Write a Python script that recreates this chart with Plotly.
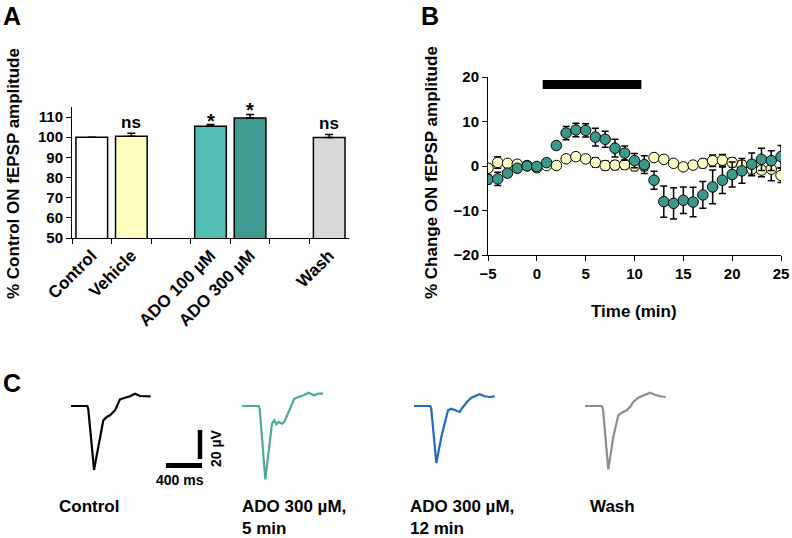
import plotly.graph_objects as go

W, H = 792, 538
FONT = "Arial, 'Liberation Sans', sans-serif"

# ---------------- Panel A data ----------------
a_categories = ["Control", "Vehicle", " ", "ADO 100 µM", "ADO 300 µM", "  ", "Wash"]
a_bar_labels = ["Control", "Vehicle", "ADO 100 µM", "ADO 300 µM", "Wash"]
a_values = [100.0, 100.5, 105.4, 109.6, 99.9]
a_errors = [0.0, 1.5, 0.9, 1.7, 1.5]
a_signif = ["", "ns", "*", "*", "ns"]
a_colors = ["#FFFFFF", "#FFFFC0", "#53BDB1", "#3E998E", "#D9D9D9"]
a_yticks = [50, 60, 70, 80, 90, 100, 110]

# ---------------- Panel B data ----------------
b_time = list(range(-5, 26))
b_ado = [-3.0, -2.9, -1.6, -0.5, 0.0, -0.1, 0.75, 4.6, 7.4, 8.1, 8.0, 6.5, 6.0, 4.0, 2.9, 1.2,
         0.3, -3.2, -8.0, -8.4, -7.7, -8.1, -6.5, -4.7, -3.2, -1.9, -1.1, 0.4, 1.5, 1.2, 2.1]
b_ado_err = [1.0, 1.5, 0.8, 0.5, 0.5, 0.5, 0.5, 0.8, 1.5, 1.5, 1.5, 2.0, 1.8, 2.0, 1.6, 1.6,
             2.0, 2.0, 3.5, 3.5, 3.0, 3.3, 3.0, 3.8, 3.0, 2.8, 2.8, 2.5, 2.5, 2.2, 2.5]
b_veh = [-0.5, 0.8, 0.6, 0.4, 0.1, -0.4, 0.1, 0.1, 1.6, 2.1, 1.6, 0.8, 0.1, 0.2, 0.3, 0.0,
         0.0, 1.9, 1.5, 0.6, -0.2, 0.2, 0.6, 1.2, 1.3, 0.8, 0.2, -0.7, -0.9, -0.7, -2.1]
b_veh_err = [0.5, 1.3, 0.6, 0.5, 0.4, 0.6, 0.4, 0.4, 0.5, 0.8, 0.6, 1.0, 1.0, 1.0, 1.0, 1.0,
             1.0, 0.5, 0.5, 0.6, 0.6, 0.6, 1.0, 1.3, 1.3, 1.0, 1.0, 1.5, 1.5, 2.6, 1.6]
b_drug_period = [0.6, 10.7]
b_drug_level = [18.3, 18.3]
b_xticks = [-5, 0, 5, 10, 15, 20, 25]
b_yticks = [-20, -10, 0, 10, 20]

# ---------------- Panel C data (ms, µV) ----------------
c_ctrl_t = [0, 181, 192, 219, 256, 286, 322, 359, 397, 433, 489, 544, 600, 656, 711, 767, 885]
c_ctrl_v = [0, 0, -2.1, -18, -44, -34, -21.4, -9.9, -7.6, -6.4, -3, 4.6, 5.7, 6.7, 8.5, 6.9, 6.7]
c_ado5_t = [0, 186, 197, 222, 259, 297, 333, 359, 381, 408, 444, 470, 500, 537, 581, 630, 685, 741, 797, 852, 900]
c_ado5_v = [0, 0, -2.1, -24, -50.6, -31, -12.2, -9.9, -12.6, -11, -12.2, -11, -6.4, -0.7, 5, 6.2, 7.4, 9.2, 7.4, 8.5, 8.5]
c_ado12_t = [0, 181, 192, 222, 248, 303, 378, 414, 463, 508, 544, 589, 637, 692, 730, 785, 841, 897]
c_ado12_v = [0, 0, -2.1, -20.7, -39.3, -21.6, -3, -1.9, -3, -4.1, -0.7, 2.8, 5.7, 7.4, 8.1, 6.7, 6.2, 6.7]
c_wash_t = [0, 186, 200, 233, 259, 314, 370, 408, 463, 500, 537, 592, 648, 722, 778, 833, 897]
c_wash_v = [0, 0, -2.1, -24, -43.7, -21.4, -6.4, -4.6, -3, -0.7, 2.8, 5.7, 7.4, 9.2, 7.8, 6.7, 6.2]
c_labels = ["Control", "ADO 300 µM,<br>5 min", "ADO 300 µM,<br>12 min", "Wash"]
c_colors = ["#000000", "#4DA89B", "#1C6DBA", "#8C8C8C"]
c_scale_ms = 400
c_scale_uv = 20

# ---------------- helpers ----------------
def px(x):
    return x / W

def py(y):
    return 1 - y / H

MS_PER_PX = 400 / 36.0
UV_PER_PX = 20 / 29.0
BASE_PX = 406

fig = go.Figure()

# Panel A bars
fig.add_trace(go.Bar(
    x=a_bar_labels, y=a_values, marker=dict(color=a_colors, line=dict(color="black", width=1.5)),
    error_y=dict(type="data", array=a_errors, arrayminus=[0] * len(a_errors), symmetric=False,
                 color="black", thickness=1.5, width=4),
    xaxis="x", yaxis="y", width=0.8, showlegend=False))

# Panel B
fig.add_trace(go.Scatter(x=b_drug_period, y=b_drug_level, mode="lines",
                         line=dict(color="black", width=9), xaxis="x2", yaxis="y2", showlegend=False))
fig.add_trace(go.Scatter(x=b_time, y=b_veh, mode="markers",
                         marker=dict(size=10.5, color="#FFFFC8", line=dict(color="black", width=1)),
                         error_y=dict(type="data", array=b_veh_err, color="black", thickness=1.5, width=3.5),
                         xaxis="x2", yaxis="y2", showlegend=False))
fig.add_trace(go.Scatter(x=b_time, y=b_ado, mode="markers",
                         marker=dict(size=10.5, color="#3A998A", line=dict(color="black", width=1)),
                         error_y=dict(type="data", array=b_ado_err, color="black", thickness=1.5, width=3.5),
                         xaxis="x2", yaxis="y2", showlegend=False))

# Panel C traces
c_offsets_px = [71, 242, 414, 585]
traces_c = [(c_ctrl_t, c_ctrl_v), (c_ado5_t, c_ado5_v), (c_ado12_t, c_ado12_v), (c_wash_t, c_wash_v)]
for (tt, vv), off, col in zip(traces_c, c_offsets_px, c_colors):
    off_ms = off * MS_PER_PX
    fig.add_trace(go.Scatter(x=[off_ms + t for t in tt], y=vv, mode="lines",
                             line=dict(color=col, width=2.2), xaxis="x3", yaxis="y3", showlegend=False))

# scale bars
hb_x0 = 166 * MS_PER_PX
hb_y = (BASE_PX - 465.5) * UV_PER_PX
fig.add_trace(go.Scatter(x=[hb_x0, hb_x0 + c_scale_ms], y=[hb_y, hb_y], mode="lines",
                         line=dict(color="black", width=5), xaxis="x3", yaxis="y3", showlegend=False))
vb_x = 200 * MS_PER_PX
vb_y0 = (BASE_PX - 459) * UV_PER_PX
fig.add_trace(go.Scatter(x=[vb_x, vb_x], y=[vb_y0, vb_y0 + c_scale_uv], mode="lines",
                         line=dict(color="black", width=4.5), xaxis="x3", yaxis="y3", showlegend=False))

tickfont = dict(family=FONT, size=15, color="black", weight="bold")
common = dict(automargin=False, showgrid=False, zeroline=False)

fig.update_layout(
    width=W, height=H, autosize=False,
    margin=dict(l=0, r=0, t=0, b=0, pad=0, autoexpand=False),
    paper_bgcolor="white", plot_bgcolor="white",
    showlegend=False,
    xaxis=dict(domain=[px(72), px(349)], type="category", categoryorder="array",
               categoryarray=a_categories, range=[-0.5, 6.5], tickson="boundaries",
               ticks="outside", ticklen=5, tickcolor="black", showline=True, linecolor="black",
               linewidth=1, tickangle=-45,
               tickfont=dict(family=FONT, size=17, color="black", weight="bold"), anchor="y", **common),
    yaxis=dict(domain=[py(238), py(107)], range=[50, 115], tickvals=a_yticks,
               ticks="outside", ticklen=5, tickcolor="black", showline=True, linecolor="black",
               linewidth=1, tickfont=tickfont, anchor="x", **common),
    xaxis2=dict(domain=[px(488), px(781)], range=[-5, 25], tickvals=b_xticks,
                ticks="outside", ticklen=5, tickcolor="black", showline=True, linecolor="black",
                linewidth=1, tickfont=tickfont, anchor="y2", **common),
    yaxis2=dict(domain=[py(255), py(77)], range=[-20, 20], tickvals=b_yticks,
                ticks="outside", ticklen=5, tickcolor="black", showline=True, linecolor="black",
                linewidth=1, tickfont=tickfont, anchor="x2", **common),
    xaxis3=dict(domain=[0, 1], range=[0, W * MS_PER_PX], visible=False, anchor="y3", **common),
    yaxis3=dict(domain=[0, py(370)], range=[(BASE_PX - H) * UV_PER_PX, (BASE_PX - 370) * UV_PER_PX],
                visible=False, anchor="x3", **common),
)

ann = []
def txt(x, y, s, size=17, xanchor="center", yanchor="middle", angle=0, align="left"):
    ann.append(dict(x=px(x), y=py(y), xref="paper", yref="paper", text=s, showarrow=False,
                    xanchor=xanchor, yanchor=yanchor, textangle=angle, align=align,
                    font=dict(family=FONT, size=size, color="black", weight="bold")))

# panel letters
txt(1, 16, "A", size=25, xanchor="left")
txt(419, 16, "B", size=25, xanchor="left")
txt(1, 383, "C", size=25, xanchor="left")

# axis titles
txt(13, 174, "% Control ON fEPSP amplitude", angle=-90)
txt(431, 173, "% Change ON fEPSP amplitude", angle=-90)
txt(634, 311, "Time (min)")

# significance marks
for lab, v, e, s in zip(a_bar_labels, a_values, a_errors, a_signif):
    if s:
        ann.append(dict(x=lab, y=v + e, xref="x", yref="y", text=s, showarrow=False,
                        xanchor="center", yanchor="bottom", yshift=(-1 if s == "ns" else -9),
                        font=dict(family=FONT, size=17 if s == "ns" else 20, color="black", weight="bold")))

# panel C labels
label_x = [57, 240, 408, 588]
for lx, s in zip(label_x, c_labels):
    txt(lx, 495, s, xanchor="left", yanchor="top")
txt(180, 480, f"{c_scale_ms} ms", size=14)
txt(216, 448, f"{c_scale_uv} µV", size=14, angle=-90)

fig.update_layout(annotations=ann)
fig.write_html("out.html", config={"displayModeBar": False, "staticPlot": True},
               post_script="document.body.style.margin='0';window.dispatchEvent(new Event('resize'));")
